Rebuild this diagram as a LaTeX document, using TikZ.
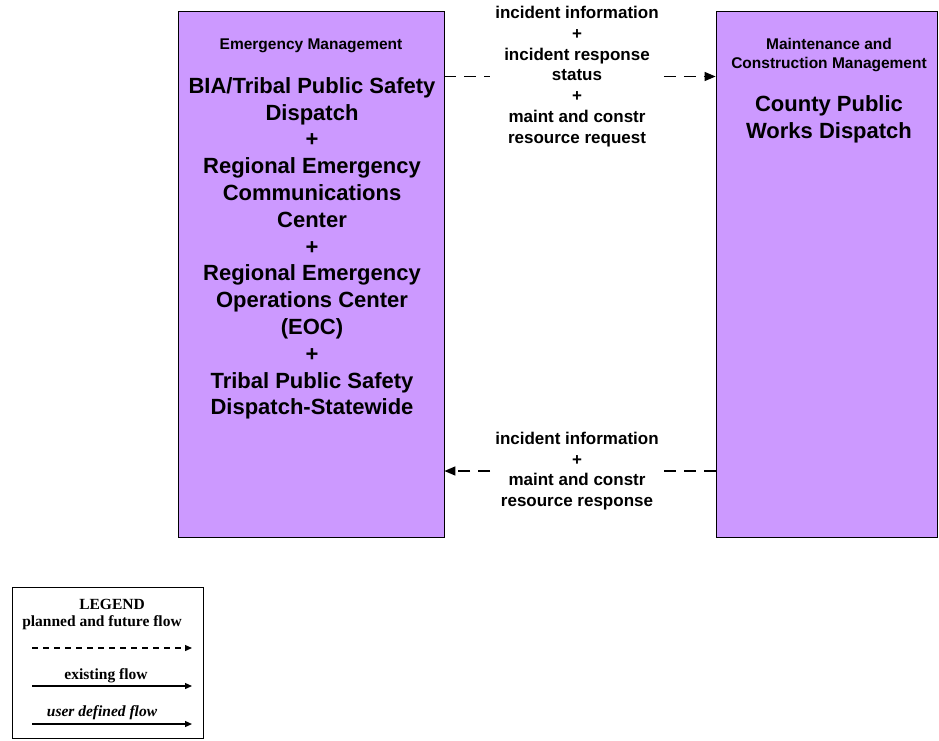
\documentclass[tikz,border=0pt]{standalone}
\usepackage{fontspec}
\setmainfont{Liberation Sans}
\newfontfamily\legfont{Liberation Serif}
\usetikzlibrary{arrows.meta}
\definecolor{sysfill}{RGB}{204,153,255}

\begin{document}
\begin{tikzpicture}[x=1pt, y=-1pt, >={Triangle[length=11pt,width=9pt]},
	every node/.style={inner sep=0pt, align=center},
	sysbox/.style={draw=black, line width=0.8pt, fill=sysfill},
	hdr/.style={font=\fontsize{15.5}{19}\selectfont\bfseries},
	big/.style={font=\fontsize{22}{26.8}\selectfont\bfseries},
	lbl/.style={font=\fontsize{17}{20.8}\selectfont\bfseries, inner xsep=5pt},
	flow/.style={line width=1.4pt, dash pattern=on 12pt off 8pt},
	leg/.style={font=\legfont\fontsize{15.5}{18}\selectfont\bfseries},
	legarrow/.style={line width=1.2pt, -{Triangle[length=7pt,width=6pt]}}]
				\useasboundingbox (0,0) rectangle (939,740);
				
				% 1. 系统框
				\node[sysbox, minimum width=266pt, minimum height=526pt] (em) at (311,274) {};
				\node[sysbox, minimum width=221pt, minimum height=526pt] (cw) at (826.5,274) {};
				
				% 2. 框内文字
				\node[hdr] (emhdr) at (311,46) {Emergency Management};
				\node[big] (emname) at (312,248.5) {BIA/Tribal Public Safety\\Dispatch\\+\\Regional Emergency\\Communications\\Center\\+\\Regional Emergency\\Operations Center\\(EOC)\\+\\Tribal Public Safety\\Dispatch-Statewide};
				\node[hdr] (cwhdr) at (829,55.5) {Maintenance and\\Construction Management};
				\node[big] (cwname) at (829,119.5) {County Public\\Works Dispatch};
				
				% 3. 信息流
				\node[lbl] (toplbl) at (577,76.5) {incident information\\+\\incident response\\status\\+\\maint and constr\\resource request};
				\draw[flow] (em.east |- toplbl.west) -- (toplbl.west);
				\draw[flow, ->] (toplbl.east) -- (cw.west |- toplbl.east);
				
				\node[lbl] (botlbl) at (577,471) {incident information\\+\\maint and constr\\resource response};
				\draw[flow] (cw.west |- botlbl.east) -- (botlbl.east);
				\draw[flow, ->] (botlbl.west) -- (em.east |- botlbl.west);
				
				% 4. 图例
				\node[draw=black, line width=0.8pt, minimum width=191pt, minimum height=151pt] (legbox) at (108,662.5) {};
				\node[leg] (legtitle) at (112,604) {LEGEND};
				\node[leg] (legplan) at (102,623) {planned and future flow};
				\coordinate (plan1) at (32,648); \coordinate (plan2) at (192,648);
				\draw[legarrow, dash pattern=on 6pt off 5pt] (plan1) -- (plan2);
				\node[leg] (legexist) at (106,676) {existing flow};
				\coordinate (exist1) at (32,686); \coordinate (exist2) at (192,686);
				\draw[legarrow] (exist1) -- (exist2);
				\node[leg, font=\legfont\fontsize{15.5}{18}\selectfont\bfseries\itshape] (leguser) at (102,713) {user defined flow};
				\coordinate (user1) at (32,724); \coordinate (user2) at (192,724);
				\draw[legarrow] (user1) -- (user2);
			\end{tikzpicture}
\end{document}
